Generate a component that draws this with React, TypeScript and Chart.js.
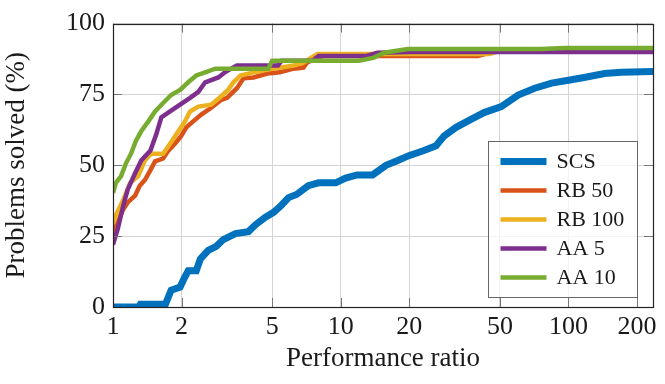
import { useEffect, useRef } from 'react';
import { Chart, registerables } from 'chart.js';

Chart.register(...registerables);

const X_TICKS = [1, 2, 5, 10, 20, 50, 100, 200];
const Y_TICKS = [0, 25, 50, 75, 100];
const X_MAX = 235;

const SERIES_NAMES = ['SCS', 'RB 50', 'RB 100', 'AA 5', 'AA 10'];
const SERIES_COLORS = ['#0072BD', '#D95319', '#EDB120', '#7E2F8E', '#77AC30'];

const SCS: [number, number][] = [
  [1, 0], [1.3, 0], [1.32, 1], [1.7, 1], [1.8, 5.9], [1.97, 7], [2.05, 10], [2.14, 12.8], [2.32, 12.8],
  [2.42, 17], [2.62, 20], [2.84, 21.4], [3.05, 23.8], [3.45, 25.9], [3.93, 26.6], [4.22, 29], [4.67, 31.7],
  [5.07, 33.4], [5.49, 35.9], [5.9, 38.6], [6.4, 39.7], [7.2, 42.8], [8, 43.8], [9.5, 43.8], [10.5, 45.5],
  [11.8, 46.6], [13.8, 46.6], [15.8, 50], [17.8, 51.7], [19.9, 53.4], [23.2, 55.2], [26.2, 56.9], [28.4, 60.3],
  [32.1, 63.4], [37.3, 66.2], [42.6, 68.6], [50.7, 70.7], [60.1, 74.8], [71, 77.2], [84.3, 79], [100, 80],
  [117, 81], [144, 82.4], [171, 82.8], [235, 83.1],
];

const RB50: [number, number][] = [
  [1, 26], [1.05, 30], [1.11, 34.5], [1.16, 36.9], [1.25, 39.3], [1.31, 42.8], [1.38, 44.8], [1.46, 48.3],
  [1.53, 51.4], [1.66, 52.4], [1.75, 55.2], [1.87, 57.6], [1.99, 60.3], [2.1, 63.4], [2.25, 65.5], [2.44, 67.9],
  [2.7, 70.3], [2.99, 73.1], [3.17, 73.8], [3.5, 77.2], [3.74, 80.7], [4.14, 81], [4.76, 82.4], [5.4, 82.8],
  [6.2, 84.1], [6.86, 84.5], [7.1, 86.2], [7.8, 87.9], [8.5, 88.6], [40, 88.6], [48, 90.3], [235, 90.3],
];

const RB100: [number, number][] = [
  [1, 29.5], [1.03, 32.4], [1.11, 37.9], [1.19, 43.8], [1.29, 46.2], [1.38, 51.7], [1.47, 54.1], [1.66, 54.1],
  [1.78, 57.6], [1.9, 61], [2.07, 65.5], [2.18, 69], [2.37, 70.7], [2.7, 71.4], [2.96, 74.1], [3.2, 76.6],
  [3.38, 79.3], [3.63, 81.7], [4.14, 82.8], [5.06, 84.1], [6.2, 85.2], [6.86, 86.2], [7.4, 87.9], [7.9, 89.3],
  [45, 89.3], [50, 90.3], [235, 90.3],
];

const AA5: [number, number][] = [
  [1, 22], [1.05, 27.6], [1.11, 35.9], [1.16, 41.4], [1.25, 47.2], [1.33, 51.7], [1.46, 55.2], [1.55, 61],
  [1.63, 66.9], [1.78, 69], [1.97, 71.4], [2.18, 73.8], [2.37, 75.9], [2.54, 79.3], [2.9, 81], [3.1, 82.8],
  [3.3, 84.1], [3.5, 85.2], [5.3, 85.2], [5.5, 86.9], [7.5, 86.9], [8, 88.6], [13, 88.6], [14.5, 89.7],
  [20, 90], [235, 90],
];

const AA10: [number, number][] = [
  [1, 40.3], [1.03, 43.8], [1.085, 46.2], [1.14, 50.7], [1.2, 54.1], [1.26, 58.6], [1.33, 62], [1.43, 65.5],
  [1.53, 69], [1.66, 72], [1.8, 74.8], [1.97, 76.6], [2.14, 79.3], [2.32, 81.7], [2.54, 82.8], [2.81, 84.1],
  [4.8, 84.1], [5, 86.9], [12, 86.9], [13.9, 87.9], [15.5, 89.7], [19.7, 91], [76, 91], [96, 91.4], [235, 91.4],
];

const SERIES_DATA = [SCS, RB50, RB100, AA5, AA10];
const SERIES_WIDTHS = [7, 4.5, 4.5, 4.5, 4.5];

const FONT = "'Liberation Serif', 'DejaVu Serif', serif";
const TEXT = '#1a1a1a';

const framePlugin = {
  id: 'frame',
  afterDatasetsDraw(chart: any) {
    const { ctx, chartArea } = chart;
    const { left, right, top, bottom } = chartArea;
    const xs = chart.scales.x;
    const ys = chart.scales.y;
    ctx.save();
    ctx.strokeStyle = '#777';
    ctx.lineWidth = 1;
    const L = 9;
    ctx.beginPath();
    X_TICKS.forEach((v) => {
      const px = Math.round(xs.getPixelForValue(v)) + 0.5;
      ctx.moveTo(px, bottom);
      ctx.lineTo(px, bottom - L);
      ctx.moveTo(px, top);
      ctx.lineTo(px, top + L);
    });
    Y_TICKS.forEach((v) => {
      const py = Math.round(ys.getPixelForValue(v)) + 0.5;
      ctx.moveTo(left, py);
      ctx.lineTo(left + L, py);
      ctx.moveTo(right, py);
      ctx.lineTo(right - L, py);
    });
    ctx.stroke();
    ctx.strokeStyle = '#222';
    ctx.lineWidth = 1.2;
    ctx.strokeRect(Math.round(left) + 0.5, Math.round(top) + 0.5, Math.round(right - left), Math.round(bottom - top));
    ctx.restore();
  },
  afterDraw(chart: any) {
    const { ctx, chartArea } = chart;
    const boxW = 149;
    const boxH = 156;
    const bx = Math.round(chartArea.right - 16 - boxW) + 0.5;
    const by = Math.round(chartArea.bottom - 10 - boxH) + 0.5;
    ctx.save();
    ctx.fillStyle = 'rgba(255,255,255,0.75)';
    ctx.fillRect(bx, by, boxW, boxH);
    ctx.strokeStyle = '#666';
    ctx.lineWidth = 1;
    ctx.strokeRect(bx, by, boxW, boxH);
    ctx.font = `22px ${FONT}`;
    ctx.textBaseline = 'middle';
    ctx.textAlign = 'left';
    chart.data.datasets.forEach((ds: any, i: number) => {
      const cy = by + 20 + i * 29;
      ctx.strokeStyle = ds.borderColor;
      ctx.lineWidth = ds.borderWidth;
      ctx.lineCap = 'butt';
      ctx.beginPath();
      ctx.moveTo(bx + 12, cy);
      ctx.lineTo(bx + 58, cy);
      ctx.stroke();
      ctx.fillStyle = TEXT;
      ctx.fillText(ds.label, bx + 68, cy + 1);
    });
    ctx.restore();
  },
};

export default function App() {
  const ref = useRef<HTMLCanvasElement | null>(null);

  useEffect(() => {
    document.body.style.margin = '0';
    if (!ref.current) return;
    const chart = new Chart(ref.current, {
      type: 'line',
      data: {
        datasets: SERIES_NAMES.map((name, i) => ({
          label: name,
          data: SERIES_DATA[i].map(([x, y]) => ({ x, y })),
          borderColor: SERIES_COLORS[i],
          backgroundColor: SERIES_COLORS[i],
          borderWidth: SERIES_WIDTHS[i],
          pointRadius: 0,
          tension: 0,
          fill: false,
          borderJoinStyle: 'miter' as const,
          order: SERIES_NAMES.length - i,
        })),
      },
      options: {
        animation: false,
        responsive: false,
        maintainAspectRatio: false,
        layout: { padding: { top: 17, right: 12, left: 0, bottom: 0 } },
        plugins: {
          legend: { display: false },
          tooltip: { enabled: false },
        },
        scales: {
          x: {
            type: 'logarithmic',
            min: 1,
            max: X_MAX,
            afterBuildTicks: (scale: any) => {
              scale.ticks = X_TICKS.map((v) => ({ value: v }));
            },
            afterFit: (scale: any) => {
              scale.height = 77;
            },
            grid: { color: '#d4d4d4', lineWidth: 1, drawTicks: false },
            border: { display: false },
            ticks: {
              autoSkip: false,
              maxRotation: 0,
              padding: 5,
              color: TEXT,
              font: { family: FONT, size: 26 },
              callback: (v: any) => String(v),
            },
            title: {
              display: true,
              text: 'Performance ratio',
              color: TEXT,
              font: { family: FONT, size: 27 },
              padding: { top: 0, bottom: 9 },
            },
          },
          y: {
            type: 'linear',
            min: 0,
            max: 100,
            afterBuildTicks: (scale: any) => {
              scale.ticks = Y_TICKS.map((v) => ({ value: v }));
            },
            afterFit: (scale: any) => {
              scale.width = 113;
            },
            grid: { color: '#d4d4d4', lineWidth: 1, drawTicks: false },
            border: { display: false },
            ticks: {
              padding: 8,
              color: TEXT,
              font: { family: FONT, size: 26 },
            },
            title: {
              display: true,
              text: 'Problems solved (%)',
              color: TEXT,
              font: { family: FONT, size: 27 },
              padding: { top: 1, bottom: 0 },
            },
          },
        },
      },
      plugins: [framePlugin],
    });
    return () => chart.destroy();
  }, []);

  return (
    <div style={{ width: 665, height: 384, background: '#fff' }}>
      <canvas ref={ref} width={665} height={384} style={{ display: 'block' }} />
    </div>
  );
}
